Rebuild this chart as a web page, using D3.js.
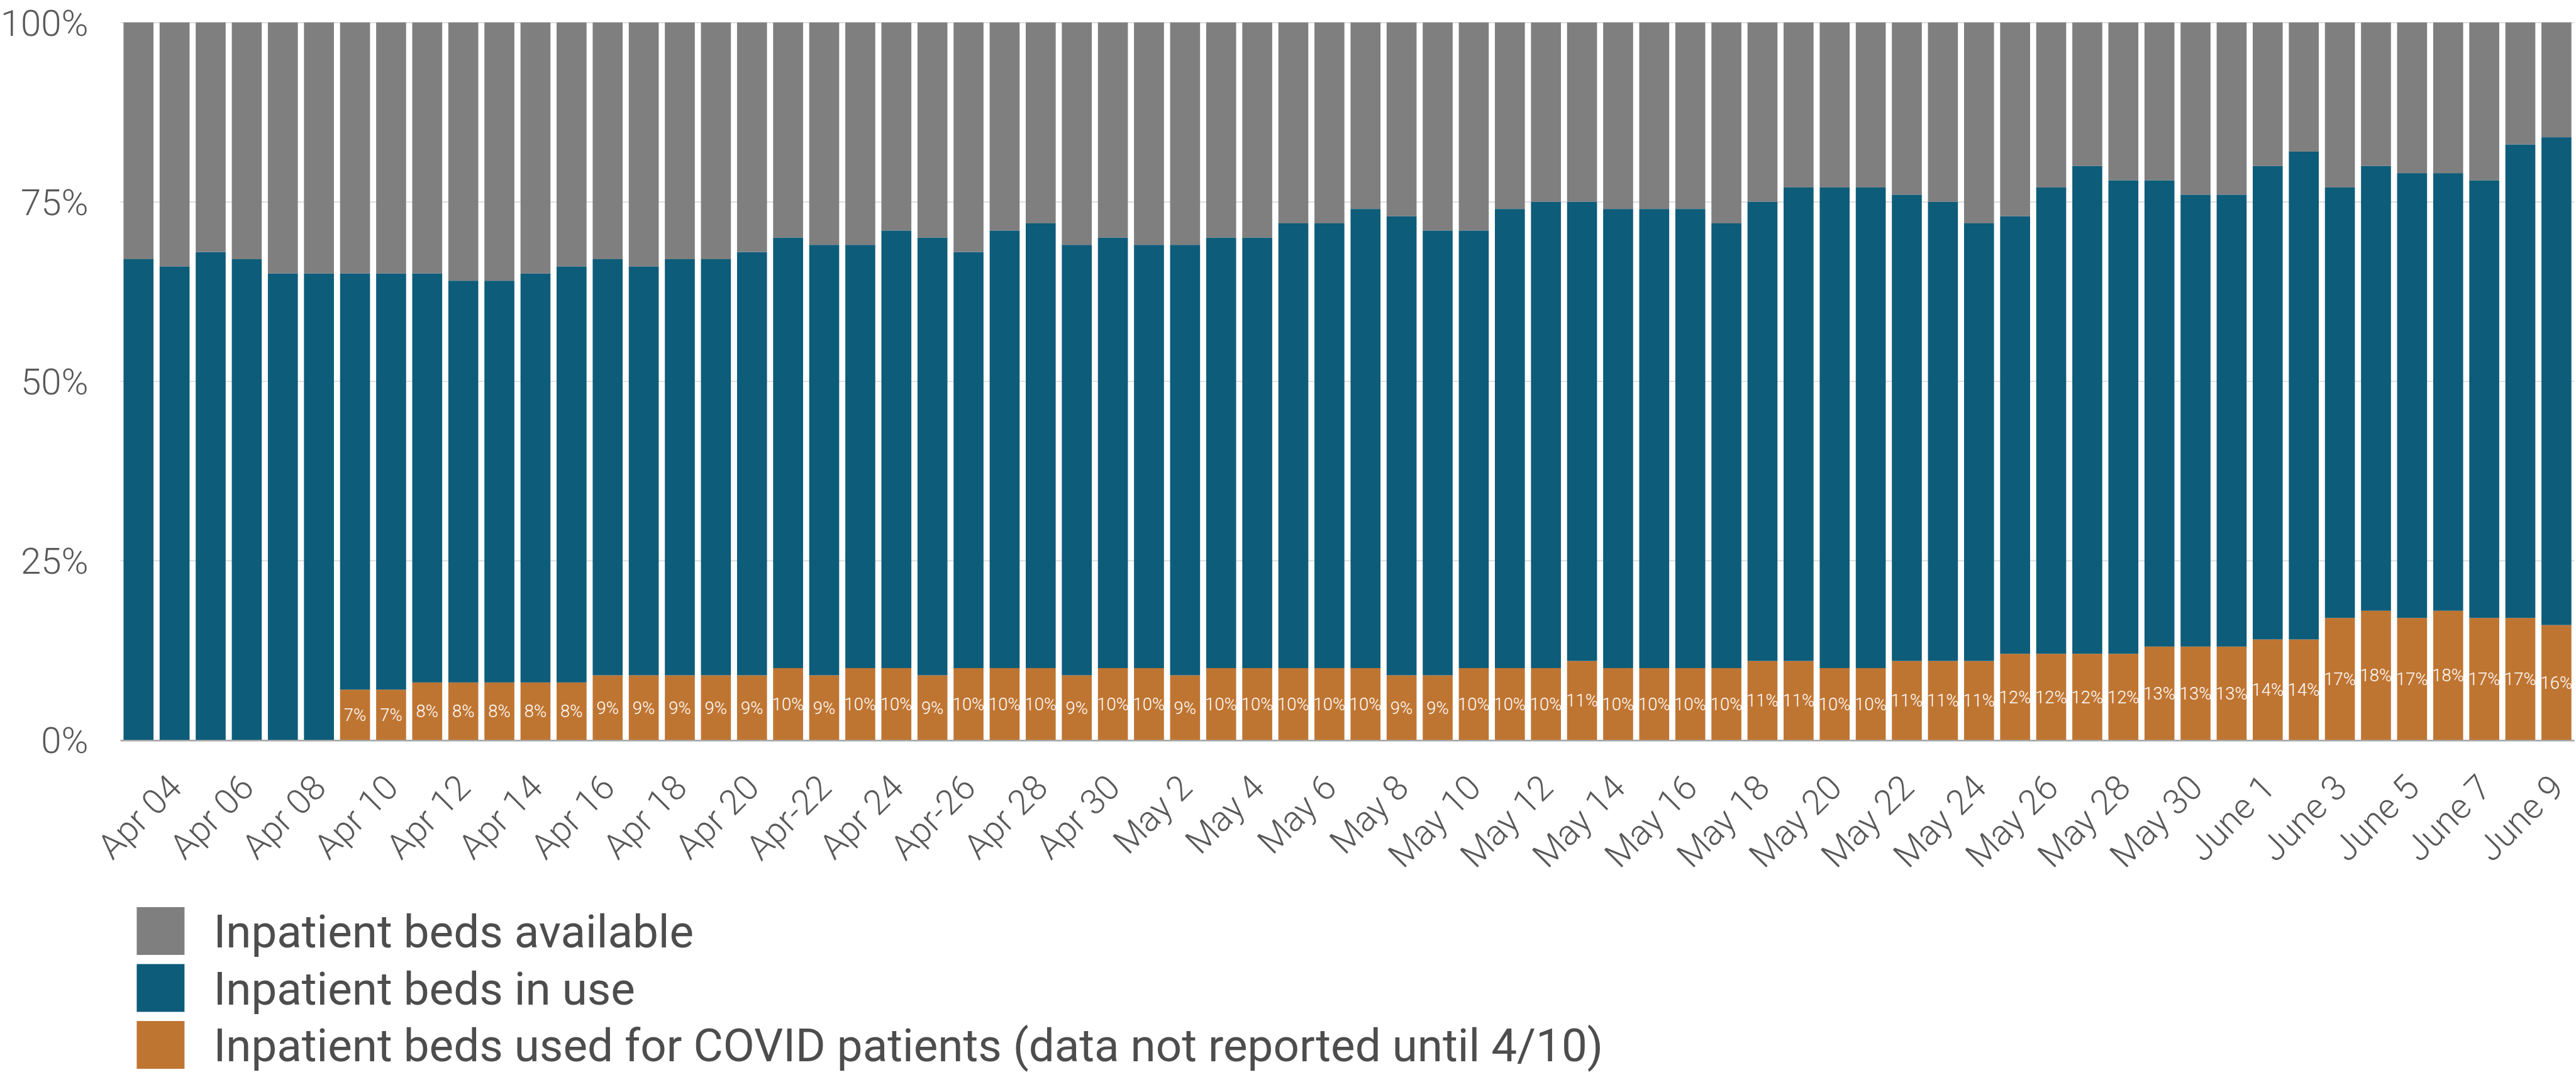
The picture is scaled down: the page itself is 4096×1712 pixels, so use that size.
<!DOCTYPE html>
<html>
<head>
<meta charset="utf-8">
<script src="https://cdn.jsdelivr.net/npm/d3@7/dist/d3.min.js"></script>
<style>
  html, body { margin: 0; padding: 0; background: #fff; }
  svg { display: block; }
</style>
</head>
<body>
<script>
// one bar per day, Apr 3 - June 9
var dates = [
  "Apr 03","Apr 04","Apr 05","Apr 06","Apr 07","Apr 08","Apr 09","Apr 10","Apr 11","Apr 12",
  "Apr 13","Apr 14","Apr 15","Apr 16","Apr 17","Apr 18","Apr 19","Apr 20","Apr 21","Apr-22",
  "Apr 23","Apr 24","Apr 25","Apr-26","Apr 27","Apr 28","Apr 29","Apr 30",
  "May 1","May 2","May 3","May 4","May 5","May 6","May 7","May 8","May 9","May 10",
  "May 11","May 12","May 13","May 14","May 15","May 16","May 17","May 18","May 19","May 20",
  "May 21","May 22","May 23","May 24","May 25","May 26","May 27","May 28","May 29","May 30","May 31",
  "June 1","June 2","June 3","June 4","June 5","June 6","June 7","June 8","June 9"
];

// % of inpatient beds in use (blue top)
var inUse = [
  67,66,68,67,65,65,65,65,65,64,
  64,65,66,67,66,67,67,68,70,69,
  69,71,70,68,71,72,69,70,69,69,
  70,70,72,72,74,73,71,71,74,75,
  75,74,74,74,72,75,77,77,77,76,
  75,72,73,77,80,78,78,76,76,80,
  82,77,80,79,79,78,83,84
];

// % of inpatient beds used for COVID patients (not reported at first)
var covid = [
  null,null,null,null,null,null,7,7,8,8,
  8,8,8,9,9,9,9,9,10,9,
  10,10,9,10,10,10,9,10,10,9,
  10,10,10,10,10,9,9,10,10,10,
  11,10,10,10,10,11,11,10,10,11,
  11,11,12,12,12,12,13,13,13,14,
  14,17,18,17,18,17,17,16
];

var yTicks = [0, 25, 50, 75, 100];
var seriesNames = [
  "Inpatient beds available",
  "Inpatient beds in use",
  "Inpatient beds used for COVID patients (data not reported until 4/10)"
];
var colors = ["#7f7f7f", "#0d5c7a", "#bf7532"];

// drawn in reference units, viewBox scales to the window
var W = 5068, H = 2118;
var plot = {left: 237, right: 5065, top: 44, bottom: 1455};
var font = "Roboto, 'Liberation Sans', sans-serif";

var svg = d3.select("body")
  .append("svg")
  .attr("width", 4096)
  .attr("height", 1712)
  .attr("viewBox", "0 0 " + W + " " + H);

var x = d3.scaleBand()
  .domain(dates)
  .range([plot.left, plot.right])
  .paddingInner(0.17)
  .paddingOuter(0.085);

var y = d3.scaleLinear()
  .domain([0, 100])
  .range([plot.bottom, plot.top]);

// gridlines
svg.append("g")
  .attr("class", "grid")
  .attr("transform", "translate(" + plot.left + ",0)")
  .call(d3.axisLeft(y).tickValues(yTicks).tickSize(-(plot.right - plot.left)).tickFormat(""))
  .call(function(g) { g.select(".domain").remove(); })
  .selectAll("line")
  .attr("stroke", "#d9d9d9")
  .attr("stroke-width", 2);

// y labels
svg.append("g")
  .attr("transform", "translate(" + plot.left + ",0)")
  .call(d3.axisLeft(y).tickValues(yTicks).tickSize(0).tickPadding(63).tickFormat(function(d) { return d + "%"; }))
  .call(function(g) { g.select(".domain").remove(); })
  .selectAll("text")
  .attr("dy", "0.36em")
  .attr("font-family", font)
  .attr("font-weight", 300)
  .attr("font-size", 72)
  .attr("fill", "#595959");

// stacked bars
var rows = dates.map(function(d, i) {
  var c = covid[i] || 0;
  return {date: d, covid: c, other: inUse[i] - c, available: 100 - inUse[i]};
});
var keys = ["covid", "other", "available"];
var keyColor = {covid: colors[2], other: colors[1], available: colors[0]};
var layers = d3.stack().keys(keys)(rows);

svg.append("g")
  .selectAll("g")
  .data(layers)
  .enter()
  .append("g")
  .attr("fill", function(d) { return keyColor[d.key]; })
  .selectAll("rect")
  .data(function(d) { return d; })
  .enter()
  .append("rect")
  .attr("x", function(d) { return x(d.data.date); })
  .attr("y", function(d) { return y(d[1]); })
  .attr("width", x.bandwidth())
  .attr("height", function(d) { return y(d[0]) - y(d[1]); });

// baseline
svg.append("line")
  .attr("x1", plot.left)
  .attr("x2", plot.right)
  .attr("y1", y(0) + 1.5)
  .attr("y2", y(0) + 1.5)
  .attr("stroke", "#a6a6a6")
  .attr("stroke-width", 3);

// COVID % labels inside the orange bars
svg.append("g")
  .selectAll("text")
  .data(rows.filter(function(d, i) { return covid[i] != null; }))
  .enter()
  .append("text")
  .attr("x", function(d) { return x(d.date) + x.bandwidth() / 2; })
  .attr("y", function(d) { return (y(0) + y(d.covid)) / 2; })
  .attr("dy", "0.36em")
  .attr("text-anchor", "middle")
  .attr("font-family", font)
  .attr("font-weight", 300)
  .attr("font-size", 34)
  .attr("fill", "#ffffff")
  .text(function(d) { return d.covid + "%"; });

// x labels, every other day
svg.append("g")
  .attr("transform", "translate(0," + plot.bottom + ")")
  .call(d3.axisBottom(x).tickValues(dates.filter(function(d, i) { return i % 2 == 1; })).tickSize(0))
  .call(function(g) { g.select(".domain").remove(); })
  .selectAll("text")
  .attr("x", 0)
  .attr("y", 0)
  .attr("dy", 0)
  .attr("transform", "translate(18,98) rotate(-45)")
  .attr("text-anchor", "end")
  .attr("font-family", font)
  .attr("font-weight", 300)
  .attr("font-size", 69)
  .attr("fill", "#595959");

// legend
var legend = svg.append("g")
  .selectAll("g")
  .data(seriesNames)
  .enter()
  .append("g")
  .attr("transform", function(d, i) { return "translate(269," + (1784 + i * 112) + ")"; });

legend.append("rect")
  .attr("width", 94)
  .attr("height", 94)
  .attr("fill", function(d, i) { return colors[i]; });

legend.append("text")
  .attr("x", 151)
  .attr("y", 47)
  .attr("dy", "0.36em")
  .attr("font-family", font)
  .attr("font-size", 90)
  .attr("fill", "#4d4d4d")
  .text(function(d) { return d; });
</script>
</body>
</html>
